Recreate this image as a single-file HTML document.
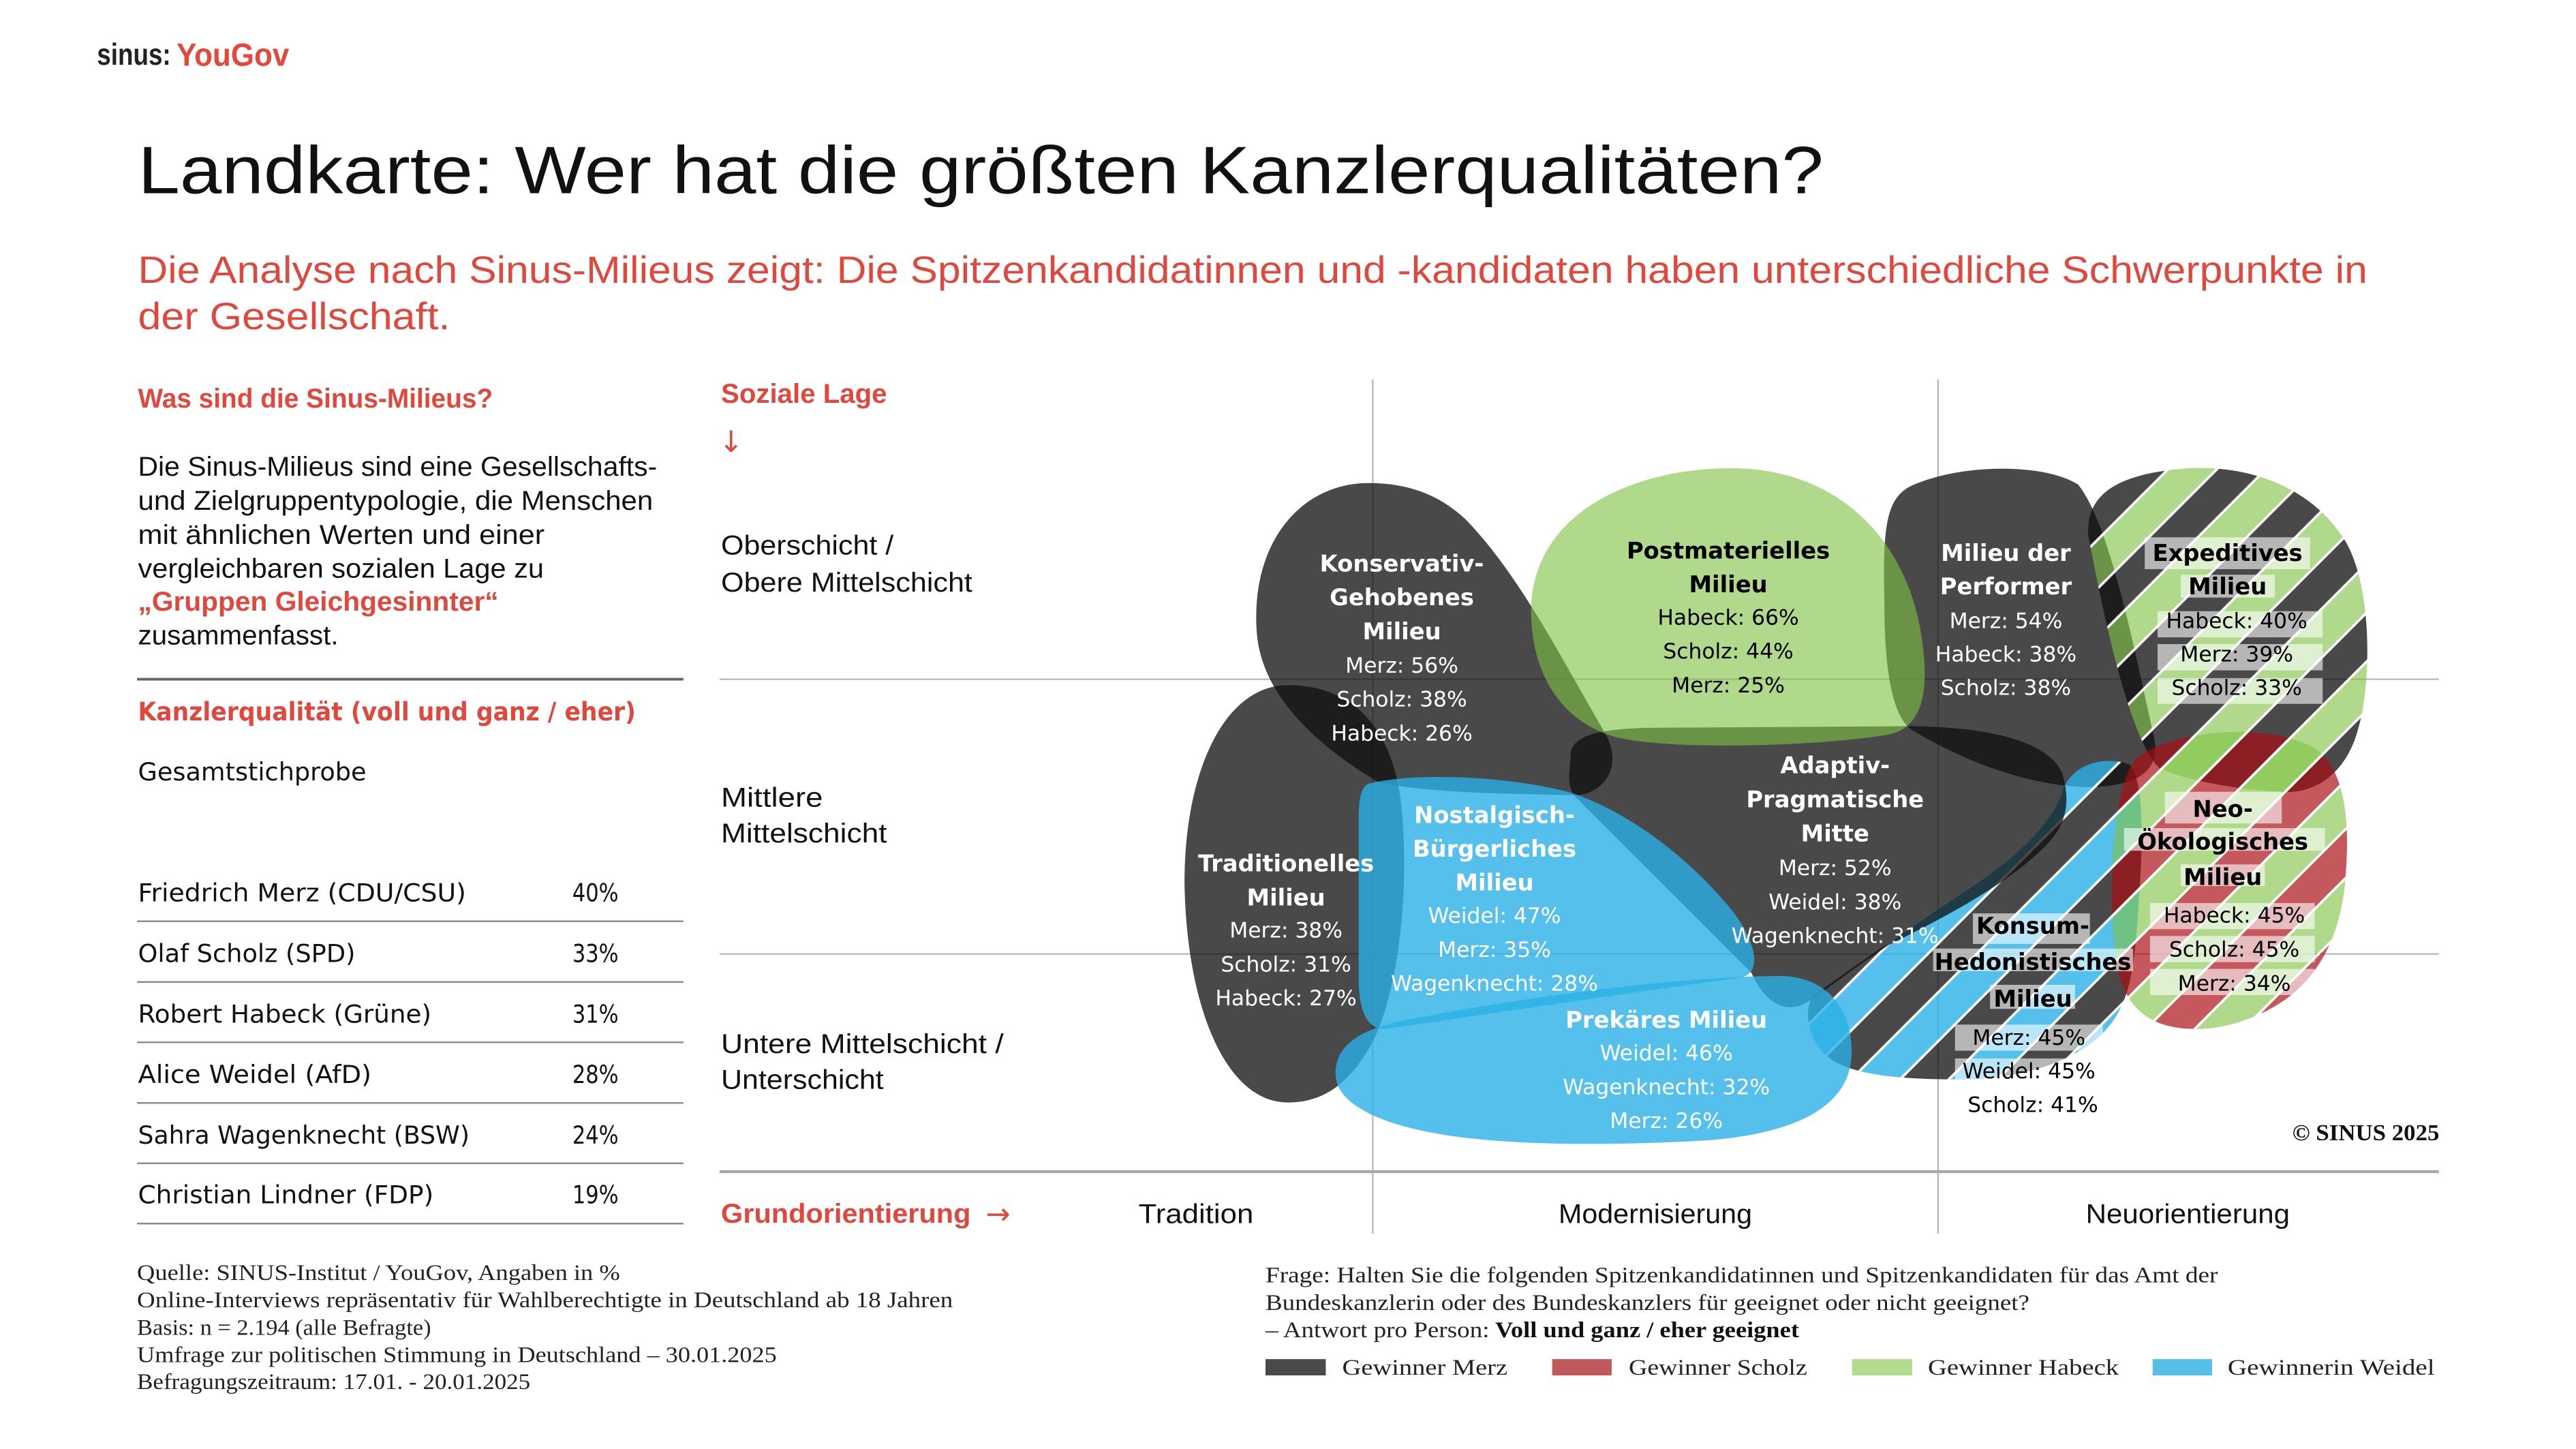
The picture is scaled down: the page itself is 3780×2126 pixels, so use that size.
<!DOCTYPE html>
<html>
<head>
<meta charset="utf-8">
<style>
html,body{margin:0;padding:0;background:#fff;}
svg{display:block;}
</style>
</head>
<body>
<svg xmlns="http://www.w3.org/2000/svg" width="3780" height="2126" viewBox="0 0 1568 881.9" preserveAspectRatio="none">
<defs>
  <pattern id="hE" patternUnits="userSpaceOnUse" x="-0.52" y="0" width="42.06" height="4000" patternTransform="rotate(45)">
    <rect x="0" y="0" width="21.03" height="4000" fill="#7fc145" fill-opacity="0.62"/>
    <rect x="21.03" y="0" width="21.03" height="4000" fill="#101010" fill-opacity="0.76"/>
    <rect x="0" y="0" width="0.75" height="4000" fill="#fff"/>
    <rect x="41.31" y="0" width="0.75" height="4000" fill="#fff"/>
    <rect x="20.28" y="0" width="1.5" height="4000" fill="#fff"/>
  </pattern>
  <pattern id="hN" patternUnits="userSpaceOnUse" x="-0.52" y="0" width="42.06" height="4000" patternTransform="rotate(45)">
    <rect x="0" y="0" width="21.03" height="4000" fill="#7fc145" fill-opacity="0.62"/>
    <rect x="21.03" y="0" width="21.03" height="4000" fill="#a90b11" fill-opacity="0.685"/>
    <rect x="0" y="0" width="0.75" height="4000" fill="#fff"/>
    <rect x="41.31" y="0" width="0.75" height="4000" fill="#fff"/>
    <rect x="20.28" y="0" width="1.5" height="4000" fill="#fff"/>
  </pattern>
  <pattern id="hK" patternUnits="userSpaceOnUse" x="-0.52" y="0" width="42.06" height="4000" patternTransform="rotate(45)">
    <rect x="0" y="0" width="21.03" height="4000" fill="#29b0e6" fill-opacity="0.8"/>
    <rect x="21.03" y="0" width="21.03" height="4000" fill="#101010" fill-opacity="0.76"/>
    <rect x="0" y="0" width="0.75" height="4000" fill="#fff"/>
    <rect x="41.31" y="0" width="0.75" height="4000" fill="#fff"/>
    <rect x="20.28" y="0" width="1.5" height="4000" fill="#fff"/>
  </pattern>
</defs>

<rect x="0" y="0" width="1568" height="881.9" fill="#fff"/>

<!-- Logo -->
<text x="59" y="39.4" font-family="Liberation Sans, sans-serif" font-weight="bold" font-size="18.5" fill="#222" textLength="45" lengthAdjust="spacingAndGlyphs">sinus:</text>
<text x="107.5" y="40" font-family="Liberation Sans, sans-serif" font-weight="bold" font-size="19.5" fill="#e5473b" textLength="68.5" lengthAdjust="spacingAndGlyphs">YouGov</text>

<!-- Title -->
<text x="84" y="117.6" font-family="Liberation Sans, sans-serif" font-size="41" fill="#111" textLength="1026" lengthAdjust="spacingAndGlyphs">Landkarte: Wer hat die größten Kanzlerqualitäten?</text>

<!-- Subtitle -->
<g font-family="Liberation Sans, sans-serif" font-size="23" fill="#e0483e">
  <text x="84" y="172.1" textLength="1357" lengthAdjust="spacingAndGlyphs">Die Analyse nach Sinus-Milieus zeigt: Die Spitzenkandidatinnen und -kandidaten haben unterschiedliche Schwerpunkte in</text>
  <text x="84" y="200.4" textLength="190" lengthAdjust="spacingAndGlyphs">der Gesellschaft.</text>
</g>

<!-- Left column -->
<text x="84" y="248" font-family="Liberation Sans, sans-serif" font-weight="bold" font-size="16.5" fill="#e0483e" textLength="216" lengthAdjust="spacingAndGlyphs">Was sind die Sinus-Milieus?</text>
<g font-family="Liberation Sans, sans-serif" font-size="16.5" fill="#111">
  <text x="84" y="289.5" textLength="316" lengthAdjust="spacingAndGlyphs">Die Sinus-Milieus sind eine Gesellschafts-</text>
  <text x="84" y="310.2" textLength="313.5" lengthAdjust="spacingAndGlyphs">und Zielgruppentypologie, die Menschen</text>
  <text x="84" y="331" textLength="247.5" lengthAdjust="spacingAndGlyphs">mit ähnlichen Werten und einer</text>
  <text x="84" y="351.6" textLength="247" lengthAdjust="spacingAndGlyphs">vergleichbaren sozialen Lage zu</text>
  <text x="84" y="371.7" font-weight="bold" fill="#e0483e" textLength="219.5" lengthAdjust="spacingAndGlyphs">„Gruppen Gleichgesinnter“</text>
  <text x="84" y="392.3" textLength="122" lengthAdjust="spacingAndGlyphs">zusammenfasst.</text>
</g>
<line x1="83.4" y1="413.4" x2="416" y2="413.4" stroke="#666" stroke-width="1.6"/>
<text x="84" y="438.5" font-family="DejaVu Sans, sans-serif" font-weight="bold" font-size="15.5" fill="#e0483e" textLength="303" lengthAdjust="spacingAndGlyphs">Kanzlerqualität (voll und ganz / eher)</text>
<g font-family="DejaVu Sans, sans-serif" font-size="15" fill="#111">
  <text x="84" y="475" textLength="139" lengthAdjust="spacingAndGlyphs">Gesamtstichprobe</text>
  <text x="84" y="548.5" textLength="199.7" lengthAdjust="spacingAndGlyphs">Friedrich Merz (CDU/CSU)</text>
  <text x="84" y="585.5" textLength="132.3" lengthAdjust="spacingAndGlyphs">Olaf Scholz (SPD)</text>
  <text x="84" y="622.4" textLength="178.6" lengthAdjust="spacingAndGlyphs">Robert Habeck (Grüne)</text>
  <text x="84" y="659.1" textLength="142.1" lengthAdjust="spacingAndGlyphs">Alice Weidel (AfD)</text>
  <text x="84" y="696.1" textLength="201.8" lengthAdjust="spacingAndGlyphs">Sahra Wagenknecht (BSW)</text>
  <text x="84" y="732.4" textLength="179.9" lengthAdjust="spacingAndGlyphs">Christian Lindner (FDP)</text>
  <text x="348.4" y="548.5" textLength="28.1" lengthAdjust="spacingAndGlyphs">40%</text>
  <text x="348.4" y="585.5" textLength="28.1" lengthAdjust="spacingAndGlyphs">33%</text>
  <text x="348.4" y="622.4" textLength="28.1" lengthAdjust="spacingAndGlyphs">31%</text>
  <text x="348.4" y="659.1" textLength="28.1" lengthAdjust="spacingAndGlyphs">28%</text>
  <text x="348.4" y="696.1" textLength="28.1" lengthAdjust="spacingAndGlyphs">24%</text>
  <text x="348.4" y="732.4" textLength="28.1" lengthAdjust="spacingAndGlyphs">19%</text>
</g>
<g stroke="#8a8a8a" stroke-width="1">
  <line x1="83.4" y1="560.7" x2="416" y2="560.7"/>
  <line x1="83.4" y1="597.7" x2="416" y2="597.7"/>
  <line x1="83.4" y1="634.4" x2="416" y2="634.4"/>
  <line x1="83.4" y1="671.3" x2="416" y2="671.3"/>
  <line x1="83.4" y1="708" x2="416" y2="708"/>
  <line x1="83.4" y1="744.7" x2="416" y2="744.7"/>
</g>

<!-- Chart axis labels -->
<text x="438.9" y="245.2" font-family="Liberation Sans, sans-serif" font-weight="bold" font-size="16.5" fill="#e0483e" textLength="101" lengthAdjust="spacingAndGlyphs">Soziale Lage</text>
<text x="437.5" y="275" font-family="DejaVu Sans, sans-serif" font-size="18" fill="#e0483e">↓</text>
<g font-family="Liberation Sans, sans-serif" font-size="16.5" fill="#111">
  <text x="438.9" y="337.5" textLength="105" lengthAdjust="spacingAndGlyphs">Oberschicht /</text>
  <text x="438.9" y="360" textLength="153" lengthAdjust="spacingAndGlyphs">Obere Mittelschicht</text>
  <text x="438.9" y="490.9" textLength="62" lengthAdjust="spacingAndGlyphs">Mittlere</text>
  <text x="438.9" y="512.7" textLength="101" lengthAdjust="spacingAndGlyphs">Mittelschicht</text>
  <text x="438.9" y="640.8" textLength="172" lengthAdjust="spacingAndGlyphs">Untere Mittelschicht /</text>
  <text x="438.9" y="662.6" textLength="99" lengthAdjust="spacingAndGlyphs">Unterschicht</text>
  <text x="693" y="744.4" textLength="70" lengthAdjust="spacingAndGlyphs">Tradition</text>
  <text x="948.7" y="744.4" textLength="117.8" lengthAdjust="spacingAndGlyphs">Modernisierung</text>
  <text x="1269.6" y="744.4" textLength="124.2" lengthAdjust="spacingAndGlyphs">Neuorientierung</text>
</g>
<text x="438.9" y="744.1" font-family="Liberation Sans, sans-serif" font-weight="bold" font-size="16.5" fill="#e0483e" textLength="152" lengthAdjust="spacingAndGlyphs">Grundorientierung</text>
<text x="600" y="745" font-family="DejaVu Sans, sans-serif" font-size="18" fill="#e0483e">→</text>

<!-- Grid -->
<g stroke="#b4b4b4" stroke-width="0.9">
  <line x1="835.6" y1="231" x2="835.6" y2="750.8"/>
  <line x1="1179.7" y1="231" x2="1179.7" y2="750.8"/>
  <line x1="438" y1="413.4" x2="1484.6" y2="413.4"/>
  <line x1="438" y1="580.6" x2="1484.6" y2="580.6"/>
</g>
<line x1="438" y1="713.1" x2="1484.6" y2="713.1" stroke="#a8a8a8" stroke-width="1.8"/>

<!-- Blobs -->
<g>
  <path d="M784,417 C825,417 848,445 853,490 C858,540 852,600 836,633 C822,660 805,671 784,671 C745,671 722,610 721,537 C721,470 745,417 784,417 Z" fill="#101010" fill-opacity="0.76"/>
  <path d="M839,476 C805,456 768,425 765,385 C761,330 792,294 833,294 C860,294 878,303 892,316 C925,350 950,400 978,448 C988,468 975,484 958,484 C920,483 870,483 839,476 Z" fill="#101010" fill-opacity="0.76"/>
  <path d="M1147,365 C1146,320 1148,302 1165,295 C1195,282 1245,282 1265,295 C1285,320 1300,400 1311,448 C1316,470 1300,479 1270,479 C1230,478 1190,460 1165,445 C1150,437 1147,400 1147,365 Z" fill="#101010" fill-opacity="0.76"/>
  <path d="M1103,607 C1125,590 1170,560 1200,540 C1230,520 1250,500 1256,480 C1262,465 1280,460 1296,465 C1306,475 1304,520 1302,545 C1300,580 1298,600 1290,615 C1275,645 1230,657 1195,657 C1160,657 1130,655 1115,645 C1100,635 1098,615 1103,607 Z" fill="url(#hK)"/>
  <path d="M956,460 C956,447 975,444 1000,443 L1160,442 C1200,442 1245,448 1255,470 C1262,492 1255,505 1245,515 C1220,540 1180,560 1150,575 C1130,588 1115,600 1100,610 C1088,617 1075,612 1066,592 L958,484 C953,476 956,468 956,460 Z" fill="#101010" fill-opacity="0.76"/>
  <path d="M932,375 C930,315 990,285 1054,285 C1120,285 1162,330 1170,390 C1175,425 1168,443 1150,447 C1110,454 1020,457 985,449 C950,440 933,410 932,375 Z" fill="#7fc145" fill-opacity="0.62"/>
  <path d="M833,477 C860,470 920,472 958,483 C1000,498 1035,530 1055,555 C1070,575 1072,592 1060,595 C1000,603 900,618 845,626 C832,628 827,615 827,595 L827,500 C827,488 828,479 833,477 Z" fill="#29b0e6" fill-opacity="0.8"/>
  <path d="M813,655 C812,638 825,628 850,622 C920,608 1020,594 1085,594 C1115,595 1128,618 1127,642 C1126,675 1090,690 1040,694 C990,697 920,698 875,690 C835,683 814,670 813,655 Z" fill="#29b0e6" fill-opacity="0.8"/>
  <path d="M1271,325 C1270,300 1290,288 1332,285 C1375,283 1410,300 1428,330 C1445,360 1443,420 1435,445 C1428,470 1410,483 1390,482 C1365,481 1335,476 1315,468 C1300,455 1285,400 1271,325 Z" fill="url(#hE)"/>
  <path d="M1300,462 C1320,445 1380,438 1410,456 C1428,470 1430,500 1428,530 C1426,570 1410,600 1380,615 C1360,625 1345,627 1330,626 C1305,624 1292,610 1288,585 C1283,545 1285,480 1300,462 Z" fill="url(#hN)"/>
</g>

<!-- Label boxes -->
<g fill="#fff" fill-opacity="0.6">
  <rect x="1305.5" y="327" width="100.7" height="19.4"/>
  <rect x="1327.4" y="349.8" width="57.3" height="13.9"/>
  <rect x="1313.3" y="372" width="100.5" height="15.9"/>
  <rect x="1313.3" y="392" width="100.5" height="16"/>
  <rect x="1313.3" y="412.7" width="100.5" height="15.7"/>

  <rect x="1317.8" y="481.9" width="71.1" height="19.3"/>
  <rect x="1292.9" y="504" width="122.3" height="13.8"/>
  <rect x="1327.4" y="526.1" width="51.2" height="13.2"/>
  <rect x="1308.7" y="549.6" width="100.3" height="15.9"/>
  <rect x="1308.7" y="569.7" width="100.3" height="15.9"/>
  <rect x="1308.7" y="589.7" width="100.3" height="15.9"/>

  <rect x="1200.9" y="555.9" width="71.2" height="18.6"/>
  <rect x="1176.7" y="577.3" width="121.7" height="13.8"/>
  <rect x="1211.3" y="599.4" width="51.8" height="14.6"/>
  <rect x="1190" y="623.6" width="90" height="15.9"/>
  <rect x="1190" y="644.2" width="90" height="15.9"/>
</g>

<!-- Blob labels -->
<g font-family="DejaVu Sans, sans-serif" text-anchor="middle">
  <g fill="#fff">
    <text x="853.3" y="347.8" font-weight="bold" font-size="14">Konservativ-</text>
    <text x="853.3" y="368.4" font-weight="bold" font-size="14">Gehobenes</text>
    <text x="853.3" y="389" font-weight="bold" font-size="14">Milieu</text>
    <text x="853.3" y="409.4" font-size="13">Merz: 56%</text>
    <text x="853.3" y="430" font-size="13">Scholz: 38%</text>
    <text x="853.3" y="450.7" font-size="13">Habeck: 26%</text>
  </g>
  <g fill="#000">
    <text x="1052" y="339.9" font-weight="bold" font-size="14">Postmaterielles</text>
    <text x="1052" y="360.5" font-weight="bold" font-size="14">Milieu</text>
    <text x="1052" y="380.2" font-size="13">Habeck: 66%</text>
    <text x="1052" y="400.8" font-size="13">Scholz: 44%</text>
    <text x="1052" y="421.5" font-size="13">Merz: 25%</text>
  </g>
  <g fill="#fff">
    <text x="1221" y="341.4" font-weight="bold" font-size="14">Milieu der</text>
    <text x="1221" y="361.8" font-weight="bold" font-size="14">Performer</text>
    <text x="1221" y="382.2" font-size="13">Merz: 54%</text>
    <text x="1221" y="402.5" font-size="13">Habeck: 38%</text>
    <text x="1221" y="422.9" font-size="13">Scholz: 38%</text>
  </g>
  <g fill="#000">
    <text x="1355.9" y="341.4" font-weight="bold" font-size="14">Expeditives</text>
    <text x="1355.9" y="361.8" font-weight="bold" font-size="14">Milieu</text>
    <text x="1361.5" y="382.2" font-size="13">Habeck: 40%</text>
    <text x="1361.5" y="402.5" font-size="13">Merz: 39%</text>
    <text x="1361.5" y="422.9" font-size="13">Scholz: 33%</text>
  </g>
  <g fill="#fff">
    <text x="782.8" y="530.3" font-weight="bold" font-size="14">Traditionelles</text>
    <text x="782.8" y="551" font-weight="bold" font-size="14">Milieu</text>
    <text x="782.8" y="570.6" font-size="13">Merz: 38%</text>
    <text x="782.8" y="591.3" font-size="13">Scholz: 31%</text>
    <text x="782.8" y="611.9" font-size="13">Habeck: 27%</text>
  </g>
  <g fill="#fff">
    <text x="909.7" y="500.8" font-weight="bold" font-size="14">Nostalgisch-</text>
    <text x="909.7" y="521.4" font-weight="bold" font-size="14">Bürgerliches</text>
    <text x="909.7" y="542" font-weight="bold" font-size="14">Milieu</text>
    <text x="909.7" y="561.7" font-size="13">Weidel: 47%</text>
    <text x="909.7" y="582.4" font-size="13">Merz: 35%</text>
    <text x="909.7" y="603" font-size="13">Wagenknecht: 28%</text>
  </g>
  <g fill="#fff">
    <text x="1117" y="470.7" font-weight="bold" font-size="14">Adaptiv-</text>
    <text x="1117" y="491.3" font-weight="bold" font-size="14">Pragmatische</text>
    <text x="1117" y="512" font-weight="bold" font-size="14">Mitte</text>
    <text x="1117" y="532.6" font-size="13">Merz: 52%</text>
    <text x="1117" y="553.3" font-size="13">Weidel: 38%</text>
    <text x="1117" y="574" font-size="13">Wagenknecht: 31%</text>
  </g>
  <g fill="#fff">
    <text x="1014.3" y="625.5" font-weight="bold" font-size="14">Prekäres Milieu</text>
    <text x="1014.3" y="645.3" font-size="13">Weidel: 46%</text>
    <text x="1014.3" y="665.9" font-size="13">Wagenknecht: 32%</text>
    <text x="1014.3" y="686.5" font-size="13">Merz: 26%</text>
  </g>
  <g fill="#000">
    <text x="1237.4" y="568.4" font-weight="bold" font-size="14">Konsum-</text>
    <text x="1237.4" y="590.2" font-weight="bold" font-size="14">Hedonistisches</text>
    <text x="1237.4" y="612.6" font-weight="bold" font-size="14">Milieu</text>
    <text x="1235" y="635.9" font-size="13">Merz: 45%</text>
    <text x="1235" y="656.3" font-size="13">Weidel: 45%</text>
    <text x="1237.4" y="676.7" font-size="13">Scholz: 41%</text>
  </g>
  <g fill="#000">
    <text x="1353" y="497.1" font-weight="bold" font-size="14">Neo-</text>
    <text x="1353" y="517.1" font-weight="bold" font-size="14">Ökologisches</text>
    <text x="1353" y="538.6" font-weight="bold" font-size="14">Milieu</text>
    <text x="1360" y="561.4" font-size="13">Habeck: 45%</text>
    <text x="1360" y="582.1" font-size="13">Scholz: 45%</text>
    <text x="1360" y="602.9" font-size="13">Merz: 34%</text>
  </g>
</g>

<text x="1395.3" y="694" font-family="Liberation Serif, serif" font-weight="bold" font-size="14" fill="#111" textLength="89.5" lengthAdjust="spacingAndGlyphs">© SINUS 2025</text>

<!-- Footnotes left -->
<g font-family="Liberation Serif, serif" font-size="13.5" fill="#222">
  <text x="83.4" y="779" textLength="294" lengthAdjust="spacingAndGlyphs">Quelle: SINUS-Institut / YouGov, Angaben in %</text>
  <text x="83.4" y="795.6" textLength="496.6" lengthAdjust="spacingAndGlyphs">Online-Interviews repräsentativ für Wahlberechtigte in Deutschland ab 18 Jahren</text>
  <text x="83.4" y="812.5" textLength="179" lengthAdjust="spacingAndGlyphs">Basis: n = 2.194 (alle Befragte)</text>
  <text x="83.4" y="829" textLength="389.4" lengthAdjust="spacingAndGlyphs">Umfrage zur politischen Stimmung in Deutschland – 30.01.2025</text>
  <text x="83.4" y="845.4" textLength="239.4" lengthAdjust="spacingAndGlyphs">Befragungszeitraum: 17.01. - 20.01.2025</text>
</g>

<!-- Footnotes right -->
<g font-family="Liberation Serif, serif" font-size="13.5" fill="#222">
  <text x="770.3" y="780.4" textLength="579.7" lengthAdjust="spacingAndGlyphs">Frage: Halten Sie die folgenden Spitzenkandidatinnen und Spitzenkandidaten für das Amt der</text>
  <text x="770.3" y="797.3" textLength="465" lengthAdjust="spacingAndGlyphs">Bundeskanzlerin oder des Bundeskanzlers für geeignet oder nicht geeignet?</text>
  <text x="770.3" y="813.9" textLength="136.3" lengthAdjust="spacingAndGlyphs">– Antwort pro Person:</text>
  <text x="910.1" y="813.9" font-weight="bold" fill="#111" textLength="185" lengthAdjust="spacingAndGlyphs">Voll und ganz / eher geeignet</text>
</g>

<!-- Legend -->
<rect x="770.3" y="827.2" width="36.7" height="9.9" fill="#4a4a4a"/>
<rect x="944.8" y="827.2" width="36.2" height="9.9" fill="#c0595b"/>
<rect x="1127.3" y="827.2" width="36.7" height="9.9" fill="#b3dc8e"/>
<rect x="1310.3" y="827.2" width="36.2" height="9.9" fill="#55bfe8"/>
<g font-family="Liberation Serif, serif" font-size="13.5" fill="#222">
  <text x="817" y="836.7" textLength="100.6" lengthAdjust="spacingAndGlyphs">Gewinner Merz</text>
  <text x="991.4" y="836.7" textLength="108.6" lengthAdjust="spacingAndGlyphs">Gewinner Scholz</text>
  <text x="1173.5" y="836.7" textLength="116.2" lengthAdjust="spacingAndGlyphs">Gewinner Habeck</text>
  <text x="1356" y="836.7" textLength="126" lengthAdjust="spacingAndGlyphs">Gewinnerin Weidel</text>
</g>
</svg>
</body>
</html>
